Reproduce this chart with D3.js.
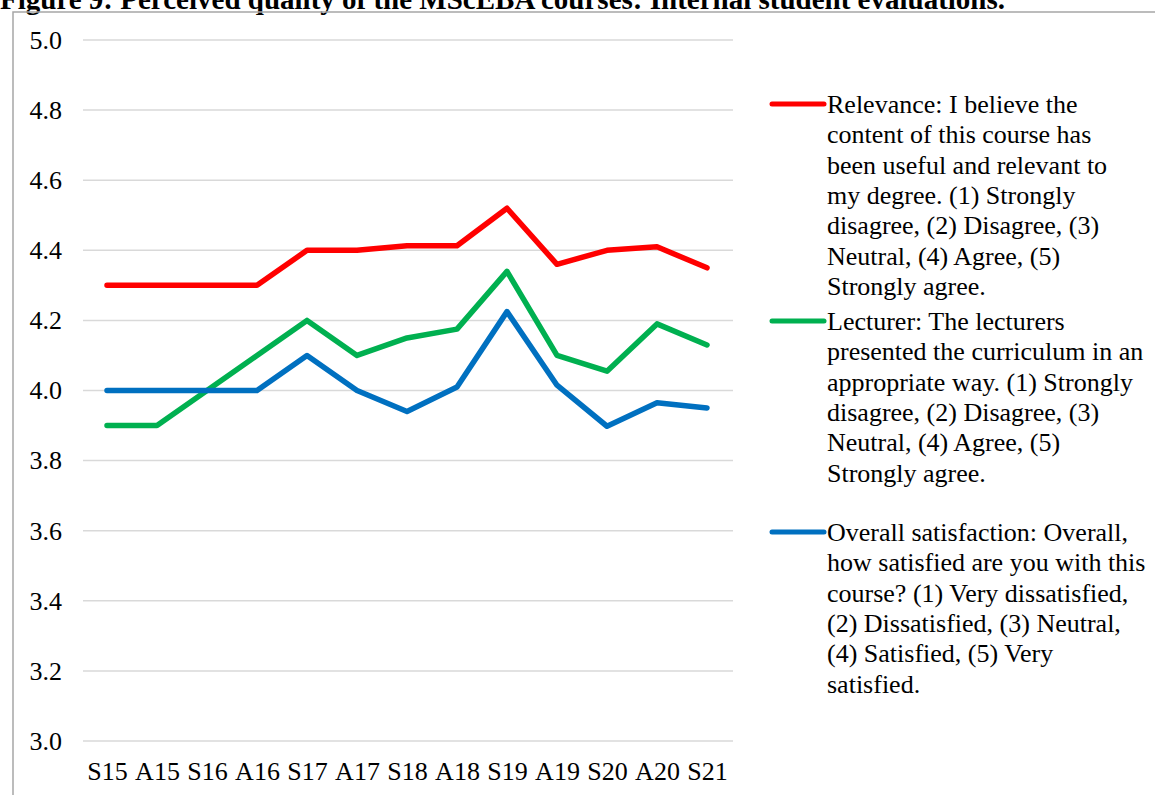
<!DOCTYPE html>
<html>
<head>
<meta charset="utf-8">
<script src="https://cdn.jsdelivr.net/npm/d3@7"></script>
<style>
  html, body { margin: 0; padding: 0; background: #fff; }
  svg { display: block; }
  svg text { font-family: "Liberation Serif", "Times New Roman", serif !important; fill: #000; }
</style>
</head>
<body>
<svg id="chart" width="1155" height="795"></svg>
<script>
// Semesters (S = spring, A = autumn)
const terms = ["S15","A15","S16","A16","S17","A17","S18","A18","S19","A19","S20","A20","S21"];

// Mean scores on a 1–5 scale
const relevance    = [4.30, 4.30, 4.30, 4.30, 4.40, 4.40, 4.413, 4.413, 4.52, 4.36, 4.40, 4.41, 4.35];
const lecturer     = [3.90, 3.90, 4.00, 4.10, 4.20, 4.10, 4.15, 4.175, 4.34, 4.10, 4.055, 4.19, 4.13];
const satisfaction = [4.00, 4.00, 4.00, 4.00, 4.10, 4.00, 3.94, 4.01, 4.225, 4.015, 3.898, 3.965, 3.95];

const yTicks = [3.0, 3.2, 3.4, 3.6, 3.8, 4.0, 4.2, 4.4, 4.6, 4.8, 5.0];

const seriesNames = ["Relevance", "Lecturer", "Overall satisfaction"];
const seriesColors = ["#ff0000", "#00b050", "#0070c0"];
const legendLines = [
  ["Relevance: I believe the", "content of this course has", "been useful and relevant to",
   "my degree. (1) Strongly", "disagree, (2) Disagree, (3)", "Neutral, (4) Agree, (5)", "Strongly agree."],
  ["Lecturer: The lecturers", "presented the curriculum in an", "appropriate way. (1) Strongly",
   "disagree, (2) Disagree, (3)", "Neutral, (4) Agree, (5)", "Strongly agree."],
  ["Overall satisfaction: Overall,", "how satisfied are you with this", "course? (1) Very dissatisfied,",
   "(2) Dissatisfied, (3) Neutral,", "(4) Satisfied, (5) Very", "satisfied."]
];

const title = "Figure 9: Perceived quality of the MScEBA courses: Internal student evaluations.";

const svg = d3.select("#chart");

// Figure caption (sits partly above the frame)
svg.append("text")
  .attr("x", 0).attr("y", 9)
  .attr("font-size", 29).attr("font-weight", "bold")
  .text(title);

// Chart frame
svg.append("path")
  .attr("d", "M13,800 L13,12 L1160,12")
  .attr("fill", "none").attr("stroke", "#a6a6a6").attr("stroke-width", 1.5);

const x = d3.scalePoint().domain(terms).range([107, 707]);
const y = d3.scaleLinear().domain([3, 5]).range([741, 40]);

// Horizontal gridlines
svg.append("g").selectAll("line").data(yTicks).join("line")
  .attr("x1", 83).attr("x2", 733)
  .attr("y1", d => y(d)).attr("y2", d => y(d))
  .attr("stroke", "#d9d9d9").attr("stroke-width", 1.5);

// Y axis labels
const yAxis = d3.axisLeft(y).tickValues(yTicks).tickFormat(d3.format(".1f")).tickSize(0).tickPadding(0);
const gy = svg.append("g").attr("transform", "translate(62,0)").call(yAxis);
gy.select(".domain").remove();
gy.attr("font-size", 26);
gy.selectAll("text").attr("fill", "#000");

// X axis labels
const xAxis = d3.axisBottom(x).tickSize(0).tickPadding(0);
const gx = svg.append("g").attr("transform", "translate(0,762)").call(xAxis);
gx.select(".domain").remove();
gx.attr("font-size", 26);
gx.selectAll("text").attr("fill", "#000");

// Series lines
const allSeries = [relevance, lecturer, satisfaction];
const line = d3.line().x((d, i) => x(terms[i])).y(d => y(d));
svg.append("g").selectAll("path").data(allSeries).join("path")
  .attr("d", d => line(d))
  .attr("fill", "none")
  .attr("stroke", (d, i) => seriesColors[i])
  .attr("stroke-width", 5.5)
  .attr("stroke-linejoin", "round")
  .attr("stroke-linecap", "round");

// Legend
const legendTop = [104, 321, 532];
const lineHeight = 30.3;
const lg = svg.append("g");
seriesNames.forEach((name, i) => {
  const g = lg.append("g").attr("transform", `translate(0,${legendTop[i]})`);
  g.append("line")
    .attr("x1", 772).attr("x2", 824).attr("y1", 0).attr("y2", 0)
    .attr("stroke", seriesColors[i]).attr("stroke-width", 5).attr("stroke-linecap", "round");
  g.append("text")
    .attr("x", 827).attr("y", 9)
    .attr("font-size", 26)
    .selectAll("tspan").data(legendLines[i]).join("tspan")
    .attr("x", 827).attr("dy", (d, j) => j === 0 ? 0 : lineHeight)
    .text(d => d);
});
</script>
</body>
</html>
